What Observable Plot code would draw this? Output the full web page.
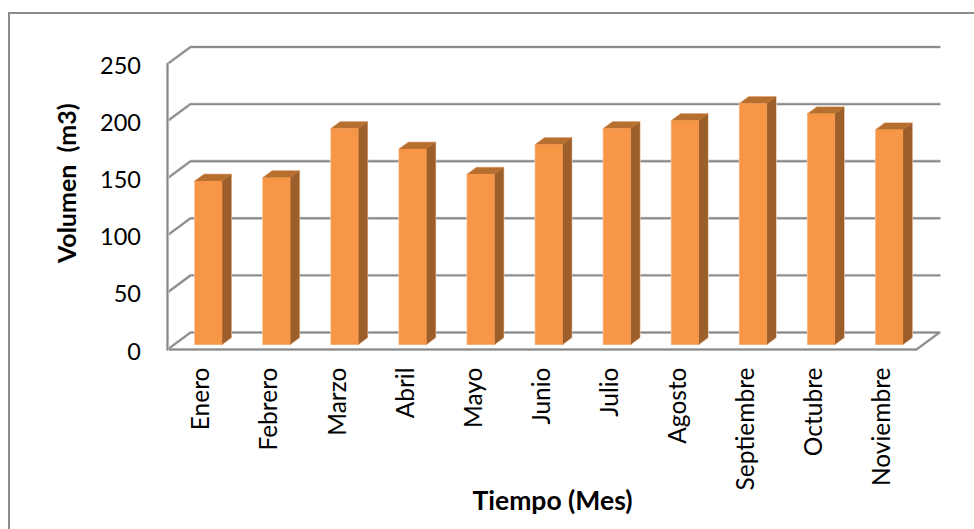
<!DOCTYPE html>
<html><head><meta charset="utf-8">
<script src="https://cdn.jsdelivr.net/npm/d3@7"></script>
<script src="https://cdn.jsdelivr.net/npm/@observablehq/plot@0.6"></script>
<style>html,body{margin:0;padding:0;background:#fff;overflow:hidden;width:974px;height:529px}
#frame{position:absolute;left:8px;top:12px;width:980px;height:540px;border:2px solid #8c8c8c;box-sizing:border-box}
svg{position:absolute;left:0;top:0}</style></head>
<body><div id="frame"></div><div id="c"></div>
<script>
const meses=["Enero","Febrero","Marzo","Abril","Mayo","Junio","Julio","Agosto","Septiembre","Octubre","Noviembre"];
const volumen=[143,146,189,171,149,175,189,196,211,202,188];
const yTicks=[0,50,100,150,200,250];
const font="Lato, Carlito, sans-serif";
const depthX=0.338, depthY=14.9;      // floor depth, in data units
const gapL=0.3, barW=0.4, d0=0.3, d1=0.7;
const P=(x,y,d)=>({x:x+d*depthX,y:y+d*depthY});
const n=meses.length;
const wall=yTicks.filter(v=>v>0).flatMap(v=>[P(0,v,0),P(0,v,1),P(n,v,1)].map(p=>({...p,k:v})));
const floor=[P(0,0,0),P(n,0,0),P(n,0,1),P(0,0,1),P(0,0,0)];
const spine=[P(0,0,0),P(0,250,0)];
const rows=meses.map((m,i)=>({m,i,v:volumen[i],l:i+gapL,r:i+gapL+barW}));
const side=rows.flatMap(b=>[P(b.r,0,d0),P(b.r,0,d1),P(b.r,b.v,d1),P(b.r,b.v,d0)].map(p=>({...p,k:b.i})));
const top_=rows.flatMap(b=>[P(b.l,b.v,d0),P(b.r,b.v,d0),P(b.r,b.v,d1),P(b.l,b.v,d1)].map(p=>({...p,k:b.i})));
const front=rows.flatMap(b=>[P(b.l,0,d0),P(b.r,0,d0),P(b.r,b.v,d0),P(b.l,b.v,d0)].map(p=>({...p,k:b.i})));
const grey="#8a8a8a", halo="#dcdcdc";
const gridLine=(data)=>[
  Plot.line(data,{x:"x",y:"y",z:"k",stroke:halo,strokeWidth:3.2}),
  Plot.line(data,{x:"x",y:"y",z:"k",stroke:grey,strokeWidth:1.9})];
const closed=d=>d.flatMap((p,i)=>(i%4===3?[p,d[i-3]]:[p]));
const rim=(data)=>Plot.line(closed(data),{x:"x",y:"y",z:"k",fill:"#fbdcc4",stroke:"#fbdcc4",strokeWidth:1.4});
const face=(data,fill)=>Plot.line(closed(data),{x:"x",y:"y",z:"k",fill,stroke:fill,strokeWidth:0.3});
const chart=Plot.plot({
  width:974,height:529,
  marginLeft:167,marginRight:58,marginTop:63.5,marginBottom:180,
  style:{background:"transparent",overflow:"visible"},
  x:{domain:[0,n],axis:null},
  y:{domain:[0,250],axis:null},
  marks:[
    ...gridLine(wall),
    ...gridLine(floor.map(p=>({...p,k:0}))),
    ...gridLine(spine.map(p=>({...p,k:0}))),
    rim(side),rim(top_),rim(front),
    face(side,"#9c5e2b"),
    face(top_,"#b76f30"),
    face(front,"#f79646"),
    Plot.text(yTicks,{x:0,y:d=>d,text:d=>String(d),textAnchor:"end",dx:-26.5,dy:2.5,fontSize:23.5,fontFamily:font,fill:"#000"}),
    Plot.text(rows,{x:d=>d.i+0.5,y:0,text:"m",rotate:-90,textAnchor:"end",dy:18,fontSize:24.5,fontFamily:font,fill:"#000"}),
    Plot.text(["Volumen  (m3)"],{frameAnchor:"left",rotate:-90,textAnchor:"middle",dx:-100,dy:-23.5,fontSize:25,fontWeight:700,fontFamily:font,fill:"#000"}),
    Plot.text(["Tiempo (Mes)"],{frameAnchor:"bottom",x:n/2,dx:10.5,dy:160,fontSize:26.5,fontWeight:700,fontFamily:font,fill:"#000"})
  ]
});
document.getElementById("c").appendChild(chart);
</script></body></html>
